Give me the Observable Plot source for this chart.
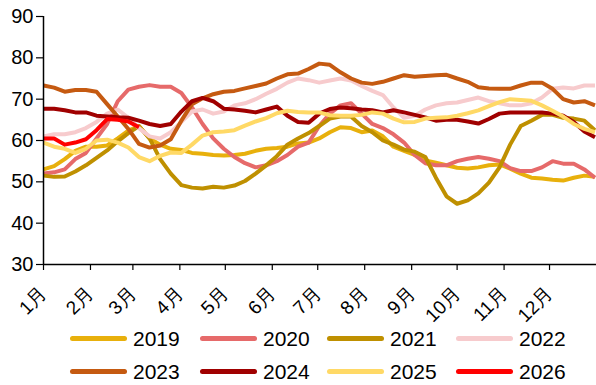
<!DOCTYPE html>
<html>
<head>
<meta charset="utf-8">
<script src="https://cdn.jsdelivr.net/npm/d3@7"></script>
<script src="https://cdn.jsdelivr.net/npm/@observablehq/plot@0.6"></script>
<style>
  html, body { margin: 0; padding: 0; background: #fff; }
  #wrap { position: relative; width: 596px; height: 385px; overflow: hidden; font-family: "Liberation Sans", Arial, sans-serif; }
  #chart { position: absolute; left: 0; top: 0; }
  .leg { position: absolute; display: flex; align-items: center; font-size: 21px; color: #000; line-height: 1; }
  .leg .sw { width: 57px; height: 5px; border-radius: 3px; margin-right: 6px; }
</style>
</head>
<body>
<div id="wrap">
  <div id="chart"></div>
  <div id="legend"></div>
</div>
<script>
// ---- data (weekly readings, day offset from Jan 1) ----
const seriesNames = ["2019", "2020", "2021", "2022", "2023", "2024", "2025", "2026"];
const seriesColors = ["#E8B00C", "#E66A6A", "#BF9000", "#F7CBCD", "#C55A11", "#A00000", "#FFD966", "#FF0000"];
const weekDays = [0, 7, 14, 21, 28, 35, 42, 49, 56, 63, 70, 77, 84, 91, 98, 105, 112, 119, 126, 133, 140, 147, 154, 161, 168, 175, 182, 189, 196, 203, 210, 217, 224, 231, 238, 245, 252, 259, 266, 273, 280, 287, 294, 301, 308, 315, 322, 329, 336, 343, 350, 357, 364];
const monthLabels = ["1月", "2月", "3月", "4月", "5月", "6月", "7月", "8月", "9月", "10月", "11月", "12月"];
const yTicks = [30, 40, 50, 60, 70, 80, 90];

const v2019 = [53, 53.8, 55.5, 57.5, 58.5, 58.5, 58.8, 60.5, 62.4, 63.5, 60.5, 59, 58, 57.7, 57, 56.8, 56.5, 56.4, 56.5, 56.8, 57.5, 58, 58.2, 58.5, 59.3, 59.5, 60.5, 62, 63.2, 63, 62, 62.4, 61, 58.5, 57.5, 56.5, 55.2, 54.6, 54, 53.4, 53.2, 53.5, 54, 54.2, 53.2, 52, 51, 50.8, 50.5, 50.3, 51, 51.5, 51.2];
const v2020 = [52, 52.3, 53, 55.5, 57, 60.5, 64, 69.5, 72.3, 73, 73.4, 73, 73, 71.5, 68, 64, 60.5, 58, 56, 54.5, 53.5, 54, 55, 56.5, 58.5, 59.5, 63.5, 66.5, 68.5, 69, 66.5, 64, 63, 61.5, 59.5, 56.5, 54.5, 54, 54, 55, 55.6, 56, 55.6, 55, 53.3, 52.6, 52.6, 53.5, 55, 54.4, 54.4, 53, 51];
const v2021 = [51.5, 51.2, 51.3, 52.5, 54, 55.8, 57.6, 59.8, 61.8, 63.5, 60.5, 55.5, 52, 49.2, 48.6, 48.4, 48.8, 48.6, 49.1, 50.2, 52, 54, 56.2, 59, 60.5, 61.8, 63.5, 65.3, 65.8, 65.8, 63.5, 62, 60, 59, 57.8, 57.3, 56, 51, 46.5, 44.7, 45.5, 47.2, 49.8, 53.5, 59, 63.5, 64.8, 66.2, 66.2, 65.5, 65.3, 64.8, 62.5];
const v2022 = [61, 61.5, 61.5, 62, 63, 64.5, 66.5, 67.5, 65.5, 63, 61, 60.5, 62, 64.5, 67, 67.5, 66.5, 67, 68.5, 69, 70, 71.3, 72.5, 74, 75, 74.6, 74, 74.5, 75, 74.5, 73.2, 72, 71, 68, 65.5, 66, 67.5, 68.5, 69, 69.2, 69.8, 70.4, 69.5, 69, 68.5, 68.5, 69, 70.4, 72.5, 72.8, 72.6, 73.3, 73.3];
const v2023 = [73.3, 72.8, 71.8, 72.2, 72.2, 71.8, 68.8, 65.8, 62.8, 59.2, 58.3, 58.8, 60.3, 64.8, 68.8, 70.2, 71.2, 71.8, 72, 72.6, 73.2, 73.8, 75, 76, 76.2, 77.3, 78.6, 78.3, 76.5, 75, 74, 73.7, 74.2, 75, 75.8, 75.4, 75.6, 75.8, 75.9, 75, 74.2, 72.9, 72.6, 72.5, 72.5, 73.3, 74, 74, 72.5, 70, 69.2, 69.5, 68.5];
const v2024 = [67.7, 67.7, 67.3, 66.8, 66.8, 66, 65.8, 65.6, 65.5, 64.8, 64, 63.5, 64, 67, 69.5, 70.3, 69.5, 67.7, 67.5, 67.2, 66.8, 67.5, 68.2, 66, 64.5, 64.3, 66.5, 67.6, 68, 67.8, 67.5, 67.3, 66.8, 67.3, 66.8, 66.2, 65.6, 64.8, 65, 65, 64.6, 64.1, 65.2, 66.5, 66.8, 66.8, 66.8, 66.8, 66.5, 66, 64.5, 62.2, 60.8];
const v2025 = [59.5, 58.5, 58, 57, 58, 60, 60.2, 59.5, 58.3, 56, 55, 56.3, 57.1, 57, 59, 61.2, 62, 62.2, 62.5, 63.6, 64.6, 65.4, 66.6, 67.2, 66.9, 66.8, 66.8, 66.1, 66, 66, 66.2, 66.8, 66.5, 65.3, 64.4, 64.5, 65.3, 65.5, 65.6, 66, 66.6, 67.3, 68.3, 69.3, 70, 69.8, 69.6, 68.5, 67.2, 65.8, 64, 62.8, 62];
const v2026 = [60.5, 60.5, 59, 59.5, 60.3, 62.5, 65.2, 65, 64.6, 63.2];

const seriesValues = [v2019, v2020, v2021, v2022, v2023, v2024, v2025, v2026];

// ---- build table ----
const day0 = Date.UTC(2019, 0, 1);
const toDate = d => new Date(day0 + d * 86400000);
const rows = [];
seriesNames.forEach((name, si) => {
  seriesValues[si].forEach((v, i) => rows.push({series: name, date: toDate(weekDays[i]), value: v}));
});
const monthTicks = monthLabels.map((_, i) => new Date(Date.UTC(2019, i, 1)));
const xStart = new Date(Date.UTC(2019, 0, 1));
const xEnd = new Date(Date.UTC(2020, 0, 1));

const chart = Plot.plot({
  width: 596,
  height: 322,
  marginLeft: 43,
  marginRight: 0,
  marginTop: 16,
  marginBottom: 58,
  style: {fontFamily: "'Liberation Sans', Arial, sans-serif", color: "#000", background: "#fff", overflow: "visible"},
  x: {type: "utc", domain: [xStart, xEnd]},
  y: {domain: [30, 90]},
  color: {domain: seriesNames, range: seriesColors},
  marks: [
    Plot.axisY({ticks: yTicks, tickSize: 7, tickPadding: 3, label: null, fontSize: 20, stroke: "#000", strokeWidth: 1.2}),
    Plot.axisX({ticks: monthTicks, tickFormat: (d) => monthLabels[d.getUTCMonth()], tickRotate: -45, tickSize: 6, tickPadding: 20, label: null, fontSize: 19, stroke: "#000", strokeWidth: 1.2}),
    Plot.line(rows, {x: "date", y: "value", z: "series", stroke: "series", strokeWidth: 4, strokeLinejoin: "round", strokeLinecap: "butt"}),
    Plot.ruleX([xStart], {stroke: "#000", strokeWidth: 1.5}),
    Plot.ruleY([30], {stroke: "#000", strokeWidth: 1.5})
  ]
});
document.getElementById("chart").appendChild(chart);

// ---- legend ----
const legCols = [70, 200, 327, 456];
const legRows = [338, 371];
const legend = document.getElementById("legend");
seriesNames.forEach((name, i) => {
  const el = document.createElement("div");
  el.className = "leg";
  el.style.left = legCols[i % 4] + "px";
  el.style.top = (legRows[Math.floor(i / 4)] - 11) + "px";
  el.style.height = "22px";
  el.innerHTML = `<span class="sw" style="background:${seriesColors[i]}"></span><span>${name}</span>`;
  legend.appendChild(el);
});
</script>
</body>
</html>
